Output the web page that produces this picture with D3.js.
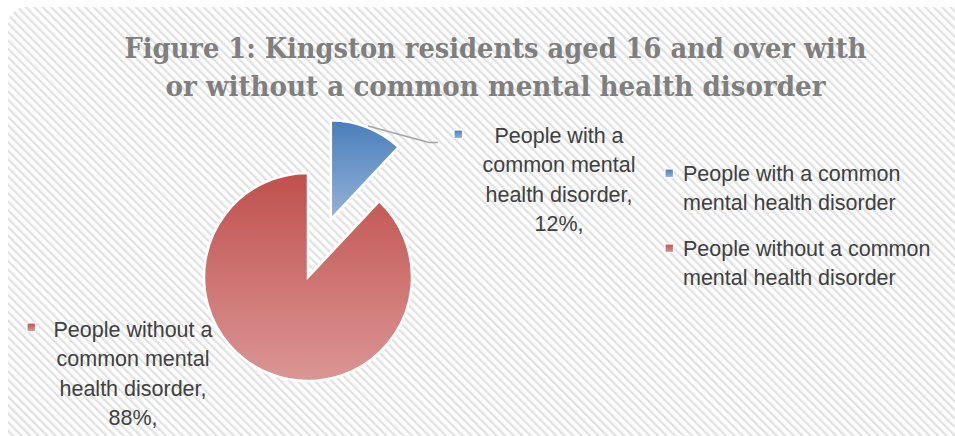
<!DOCTYPE html>
<html>
<head>
<meta charset="utf-8">
<script src="https://cdn.jsdelivr.net/npm/d3@7/dist/d3.min.js"></script>
<style>
  html, body { margin: 0; padding: 0; background: #ffffff; }
  svg { display: block; }
</style>
</head>
<body>
<svg id="chart" width="955" height="436"></svg>
<script>
// Chart data
const categories = [
  "People with a common mental health disorder",
  "People without a common mental health disorder"
];
const shares = [12, 88];
const shareLabels = ["12%,", "88%,"];
const labelLines = [
  ["People with a", "common mental", "health disorder,"],
  ["People without a", "common mental", "health disorder,"]
];
const legendLines = [
  ["People with a common", "mental health disorder"],
  ["People without a common", "mental health disorder"]
];
const titleLines = [
  "Figure 1: Kingston residents aged 16 and over with",
  "or without a common mental health disorder"
];

const palette = [
  { top: "#4a7ebb", bottom: "#95b3d7" },
  { top: "#c0504d", bottom: "#da9694" }
];

const svg = d3.select("#chart");
const defs = svg.append("defs");

// Diagonal hatch used as the chart-area fill
const hatch = defs.append("pattern")
  .attr("id", "hatch")
  .attr("patternUnits", "userSpaceOnUse")
  .attr("width", 6).attr("height", 6)
  .attr("patternTransform", "rotate(-45)");
hatch.append("rect").attr("width", 6).attr("height", 6).attr("fill", "#ffffff");
hatch.append("rect").attr("x", 0).attr("width", 2.4).attr("height", 6).attr("fill", "#e2e2e2");

// Vertical gradients for each slice
palette.forEach((p, i) => {
  const g = defs.append("linearGradient")
    .attr("id", "grad" + i)
    .attr("x1", 0).attr("y1", 0).attr("x2", 0).attr("y2", 1);
  g.append("stop").attr("offset", "0%").attr("stop-color", p.top);
  g.append("stop").attr("offset", "100%").attr("stop-color", p.bottom);
});

// Chart area
svg.append("rect")
  .attr("x", 8).attr("y", 7)
  .attr("width", 975).attr("height", 460)
  .attr("rx", 18).attr("ry", 18)
  .attr("fill", "url(#hatch)");

// Title
const title = svg.append("g")
  .attr("font-family", "'DejaVu Serif', 'Liberation Serif', serif")
  .attr("font-weight", "bold")
  .attr("font-size", 27)
  .attr("fill", "#7f7f7f")
  .attr("text-anchor", "middle");
const titleWidths = [742, 660];
titleLines.forEach((t, i) => {
  title.append("text")
    .attr("x", 495.5)
    .attr("y", 58 + i * 38)
    .attr("textLength", titleWidths[i])
    .attr("lengthAdjust", "spacingAndGlyphs")
    .text(t);
});

// Pie
const cx = 308, cy = 277;
const radius = 104;
const explodedRadius = 99;
const explodeDist = 62;

const pie = d3.pie().sort(null).startAngle(0).endAngle(2 * Math.PI);
const arcs = pie(shares);

const slices = svg.append("g").attr("transform", `translate(${cx},${cy})`);
arcs.forEach((a, i) => {
  const exploded = i === 0;
  const mid = (a.startAngle + a.endAngle) / 2;
  const dx = exploded ? explodeDist * Math.sin(mid) : 0;
  const dy = exploded ? -explodeDist * Math.cos(mid) : 0;
  const arc = d3.arc().innerRadius(0).outerRadius(exploded ? explodedRadius : radius);
  slices.append("path")
    .attr("transform", `translate(${dx},${dy})`)
    .attr("d", arc(a))
    .attr("fill", `url(#grad${i})`)
    .attr("stroke", "#ffffff")
    .attr("stroke-width", 2.5)
    .attr("stroke-linejoin", "miter");
});

// Leader line from the exploded slice to its label
const leader = d3.line();
svg.append("path")
  .attr("d", leader([[368, 126], [429, 142.5], [438, 142.5]]))
  .attr("fill", "none")
  .attr("stroke", "#a5a5a5")
  .attr("stroke-width", 1.6);

// Data labels
const labelFont = "'Liberation Sans', Arial, sans-serif";
const labelPos = [
  { x: 559, y: 143, mx: 454, my: 130 },
  { x: 133, y: 337, mx: 27, my: 323 }
];
const lineGap = 29.3;
labelLines.forEach((lines, i) => {
  const p = labelPos[i];
  const g = svg.append("g")
    .attr("font-family", labelFont)
    .attr("font-size", 21.5)
    .attr("fill", "#404040")
    .attr("text-anchor", "middle");
  lines.concat([shareLabels[i]]).forEach((t, j) => {
    g.append("text").attr("x", p.x).attr("y", p.y + j * lineGap).text(t);
  });
  svg.append("rect")
    .attr("x", p.mx).attr("y", p.my)
    .attr("width", 8.5).attr("height", 8.5)
    .attr("fill", `url(#grad${i})`)
    .attr("stroke", "#ffffff").attr("stroke-width", 1.2);
});

// Legend
const legend = svg.append("g")
  .attr("font-family", labelFont)
  .attr("font-size", 21.5)
  .attr("fill", "#404040");
const legendTop = [181, 256];
categories.forEach((c, i) => {
  const y = legendTop[i];
  legend.append("rect")
    .attr("x", 665).attr("y", y - 12)
    .attr("width", 8.5).attr("height", 8.5)
    .attr("fill", `url(#grad${i})`)
    .attr("stroke", "#ffffff").attr("stroke-width", 1.2);
  legendLines[i].forEach((t, j) => {
    legend.append("text").attr("x", 683).attr("y", y + j * 29.3).text(t);
  });
});
</script>
</body>
</html>
